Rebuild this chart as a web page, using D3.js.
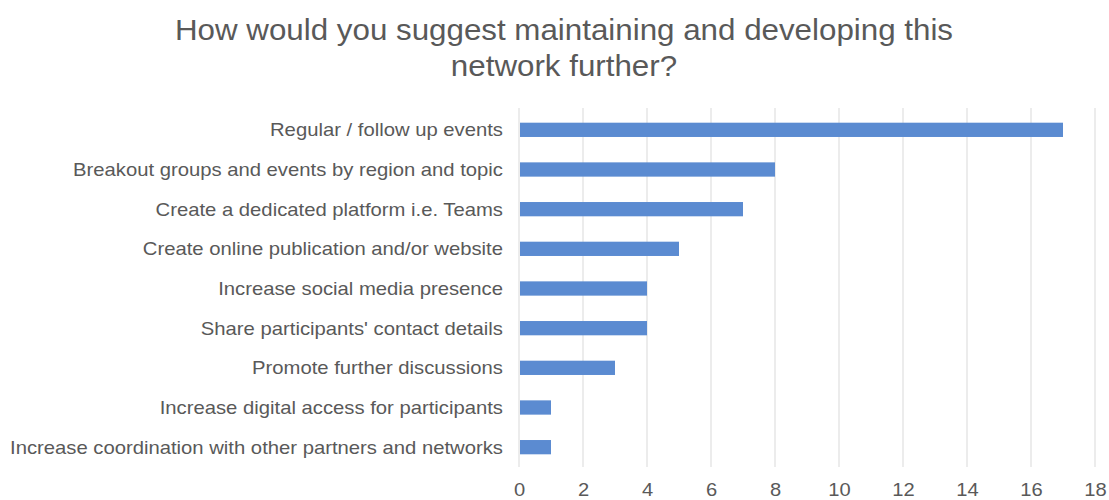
<!DOCTYPE html>
<html><head><meta charset="utf-8">
<script src="https://cdn.jsdelivr.net/npm/d3@7"></script>
<style>body{margin:0;background:#fff}svg{display:block}</style>
</head><body><svg id="c" width="1109" height="500"></svg>
<script>
const categories = [
  "Regular / follow up events",
  "Breakout groups and events by region and topic",
  "Create a dedicated platform i.e. Teams",
  "Create online publication and/or website",
  "Increase social media presence",
  "Share participants' contact details",
  "Promote further discussions",
  "Increase digital access for participants",
  "Increase coordination with other partners and networks"
];
const values = [17, 8, 7, 5, 4, 4, 3, 1, 1];
const tickValues = [0, 2, 4, 6, 8, 10, 12, 14, 16, 18];
const titleLines = ["How would you suggest maintaining and developing this", "network further?"];

const svg = d3.select("#c");
const font = "'Liberation Sans', Arial, sans-serif";
const grey = "#595959";
const x = d3.scaleLinear().domain([0, 18]).range([519, 1095]);
const y = d3.scaleBand().domain(categories).range([110, 467]).paddingInner(0.64).paddingOuter(0.32);

// gridlines
svg.append("g").selectAll("line").data(tickValues).join("line")
  .attr("x1", d => x(d)).attr("x2", d => x(d))
  .attr("y1", 108).attr("y2", 467)
  .attr("stroke", "#d9d9d9").attr("stroke-width", 1);

// bars
svg.append("g").selectAll("rect").data(values).join("rect")
  .attr("x", x(0) + 1).attr("y", (d, i) => y(categories[i]))
  .attr("width", d => x(d) - x(0) - 1).attr("height", y.bandwidth())
  .attr("fill", "#5b8bd1");

function stretch(sel, factor) {
  sel.each(function () {
    const w = this.getComputedTextLength();
    d3.select(this).attr("textLength", w * factor).attr("lengthAdjust", "spacingAndGlyphs");
  });
}

// category labels
const labels = svg.append("g").selectAll("text").data(categories).join("text")
  .attr("x", 503).attr("y", d => y(d) + y.bandwidth() / 2)
  .attr("dy", "0.35em").attr("text-anchor", "end")
  .attr("font-family", font).attr("font-size", 18.5).attr("fill", grey)
  .text(d => d);
let maxW = 0;
labels.each(function () { maxW = Math.max(maxW, this.getComputedTextLength()); });
stretch(labels, 493 / maxW);

// x axis tick labels
const xAxis = d3.axisBottom(x).tickValues(tickValues).tickSize(0).tickPadding(0);
const gx = svg.append("g").attr("transform", "translate(0,482)").call(xAxis);
gx.select(".domain").remove();
gx.selectAll("text").attr("font-family", font).attr("font-size", 19).attr("fill", grey);
stretch(gx.selectAll("text"), 1.06);

// title
const titles = svg.append("g").selectAll("text").data(titleLines).join("text")
  .attr("x", 564).attr("y", (d, i) => 40 + i * 36)
  .attr("text-anchor", "middle")
  .attr("font-family", font).attr("font-size", 29).attr("fill", grey)
  .text(d => d);
const t0 = titles.nodes()[0].getComputedTextLength();
stretch(titles, 778 / t0);
</script></body></html>
